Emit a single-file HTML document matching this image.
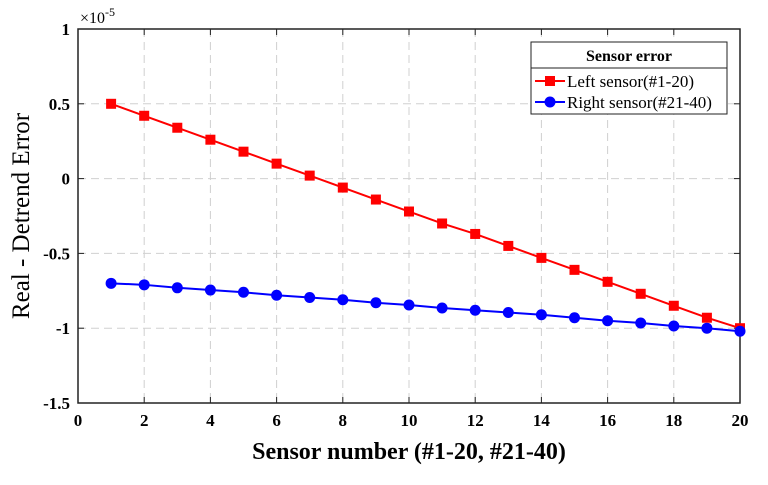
<!DOCTYPE html>
<html><head><meta charset="utf-8"><style>
body{margin:0;background:#fff}
svg text{font-family:"Liberation Serif",serif}
</style></head><body>
<svg id="c" width="768" height="480" xmlns="http://www.w3.org/2000/svg"></svg>
<script>
const xTicks=[0,2,4,6,8,10,12,14,16,18,20];
const yTicks=[1,0.5,0,-0.5,-1,-1.5];
const yTickLabels=["1","0.5","0","-0.5","-1","-1.5"];
const sensors=[1,2,3,4,5,6,7,8,9,10,11,12,13,14,15,16,17,18,19,20];
const leftErr=[0.5,0.42,0.34,0.26,0.18,0.10,0.02,-0.06,-0.14,-0.22,-0.30,-0.37,-0.45,-0.53,-0.61,-0.69,-0.77,-0.85,-0.93,-1.0];
const rightErr=[-0.70,-0.71,-0.73,-0.745,-0.76,-0.78,-0.795,-0.81,-0.83,-0.845,-0.865,-0.88,-0.895,-0.91,-0.93,-0.95,-0.965,-0.985,-1.0,-1.02];
const L=78,R=740,T=29,B=403;
const sx=v=>L+(v-0)/(20-0)*(R-L);
const sy=v=>T+(1-v)/(1-(-1.5))*(B-T);
const svg=document.getElementById('c');
const NS='http://www.w3.org/2000/svg';
function mk(tag,attrs,parent){const e=document.createElementNS(NS,tag);for(const k in attrs)e.setAttribute(k,attrs[k]);(parent||svg).appendChild(e);return e;}
xTicks.forEach(v=>{if(v>0&&v<20){const g=mk('line',{x1:sx(v),x2:sx(v),y1:T,y2:B,stroke:'#d0d0d0','stroke-dasharray':'8,5'});

}});
yTicks.forEach(v=>{if(v<1&&v>-1.5){const g=mk('line',{x1:L,x2:R,y1:sy(v),y2:sy(v),stroke:'#d0d0d0','stroke-dasharray':'8,5'});

}});
const box=mk('rect',{x:L,y:T,width:R-L,height:B-T,fill:'none',stroke:'#222','stroke-width':1.5});


xTicks.forEach(v=>{mk('line',{x1:sx(v),x2:sx(v),y1:B,y2:B-6,stroke:'#222'});mk('line',{x1:sx(v),x2:sx(v),y1:T,y2:T+6,stroke:'#222'});
const t=mk('text',{x:sx(v),y:B+23,'text-anchor':'middle','font-size':17,'font-weight':'bold'});t.textContent=v;

});
yTicks.forEach((v,i)=>{mk('line',{x1:L,x2:L+6,y1:sy(v),y2:sy(v),stroke:'#222'});mk('line',{x1:R,x2:R-6,y1:sy(v),y2:sy(v),stroke:'#222'});
const t=mk('text',{x:L-8,y:sy(v)+6,'text-anchor':'end','font-size':17,'font-weight':'bold'});t.textContent=yTickLabels[i];

});
const ex=mk('text',{x:80,y:23,'font-size':16});ex.innerHTML='×10<tspan dy="-7" font-size="12">-5</tspan>';


const xt=mk('text',{x:409,y:459,'text-anchor':'middle','font-size':24,'font-weight':'bold'});xt.textContent='Sensor number (#1-20, #21-40)';


const yt=mk('text',{x:0,y:0,'text-anchor':'middle','font-size':25,transform:'translate(29,216) rotate(-90)'});yt.textContent='Real - Detrend Error';


function series(vals,color,marker,name){
const p=mk('polyline',{points:sensors.map((s,i)=>sx(s)+','+sy(vals[i])).join(' '),fill:'none',stroke:color,'stroke-width':2});


sensors.forEach((s,i)=>{let m;
if(marker==='sq')m=mk('rect',{x:sx(s)-5,y:sy(vals[i])-5,width:10,height:10,fill:color});
else m=mk('circle',{cx:sx(s),cy:sy(vals[i]),r:5.5,fill:color});

});
}
series(leftErr,'#f00','sq','left-sensor');
series(rightErr,'#00f','ci','right-sensor');
const lg=mk('g',{});


mk('rect',{x:531,y:42,width:196,height:72,fill:'#fff',stroke:'#222'},lg);
mk('line',{x1:531,x2:727,y1:68,y2:68,stroke:'#222'},lg);
const lt=mk('text',{x:629,y:61,'text-anchor':'middle','font-size':16,'font-weight':'bold'},lg);lt.textContent='Sensor error';
mk('line',{x1:535,x2:565,y1:81,y2:81,stroke:'#f00','stroke-width':2},lg);
mk('rect',{x:545,y:76,width:10,height:10,fill:'#f00'},lg);
const l1=mk('text',{x:567,y:87,'font-size':17},lg);l1.textContent='Left sensor(#1-20)';


mk('line',{x1:535,x2:565,y1:102,y2:102,stroke:'#00f','stroke-width':2},lg);
mk('circle',{cx:550,cy:102,r:5.5,fill:'#00f'},lg);
const l2=mk('text',{x:567,y:108,'font-size':17},lg);l2.textContent='Right sensor(#21-40)';


</script>
</body></html>
